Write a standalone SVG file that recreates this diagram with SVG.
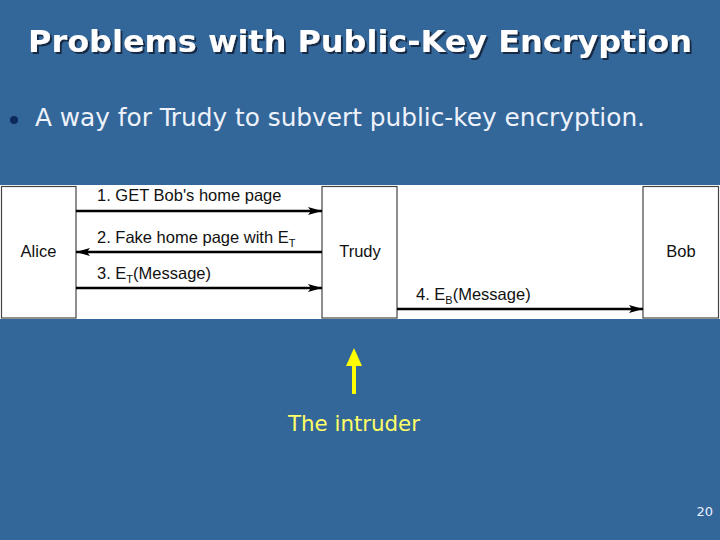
<svg xmlns="http://www.w3.org/2000/svg" width="720" height="540" viewBox="0 0 720 540">
<defs>
<marker id="ah" viewBox="0 0 14 8" refX="14" refY="4" markerWidth="14" markerHeight="8" markerUnits="userSpaceOnUse" orient="auto">
<path d="M0,0 L14,4 L0,8 L3,4 Z" fill="#000"/>
</marker>
<filter id="sh" x="-5%" y="-20%" width="110%" height="140%">
<feDropShadow dx="2" dy="2" stdDeviation="0.6" flood-color="#0a1a33" flood-opacity="0.8"/>
</filter>
</defs>
<style>
.box{fill:#fff;stroke:#444;stroke-width:1.2}
.lbl{font-family:"Liberation Sans",Arial,sans-serif;font-size:16.5px;fill:#111}
.nm{font-family:"Liberation Sans",Arial,sans-serif;font-size:16.5px;fill:#111;text-anchor:middle}
.conn{stroke:#000;stroke-width:2.4;fill:none;marker-end:url(#ah)}
.sub{font-size:11px}
</style>
<rect width="720" height="540" fill="#336699"/>
<text x="360" y="52" text-anchor="middle" font-family="'DejaVu Sans Condensed','DejaVu Sans',sans-serif" font-weight="bold" font-size="31" fill="#fff" filter="url(#sh)" textLength="664" lengthAdjust="spacingAndGlyphs">Problems with Public-Key Encryption</text>
<circle cx="14" cy="120" r="4" fill="#0c2a5a"/>
<text x="35" y="126" font-family="'DejaVu Sans Condensed','DejaVu Sans',sans-serif" font-size="24" fill="#eef2fa" textLength="610" lengthAdjust="spacingAndGlyphs">A way for Trudy to subvert public-key encryption.</text>
<rect x="0" y="185" width="720" height="134" fill="#fff"/>
<g id="alice">
<rect class="box" x="1.5" y="186.5" width="74.5" height="131.5"/>
<text class="nm" x="38.5" y="257">Alice</text>
</g>
<g id="trudy">
<rect class="box" x="322" y="186.5" width="75" height="131.5"/>
<text class="nm" x="360" y="257">Trudy</text>
</g>
<g id="bob">
<rect class="box" x="643" y="186.5" width="75.5" height="131.5"/>
<text class="nm" x="681" y="257">Bob</text>
</g>
<g id="connectors">
<line class="conn" x1="76" y1="211" x2="322" y2="211"/>
<text class="lbl" x="97" y="201">1. GET Bob's home page</text>
<line class="conn" x1="322" y1="252" x2="76" y2="252"/>
<text class="lbl" x="97" y="243">2. Fake home page with E<tspan class="sub" dy="4">T</tspan></text>
<line class="conn" x1="76" y1="288" x2="322" y2="288"/>
<text class="lbl" x="97" y="279">3. E<tspan class="sub" dy="4">T</tspan><tspan dy="-4">(Message)</tspan></text>
<line class="conn" x1="397" y1="309" x2="643" y2="309"/>
<text class="lbl" x="416" y="300">4. E<tspan class="sub" dy="4">B</tspan><tspan dy="-4">(Message)</tspan></text>
</g>
<g id="intruder">
<line x1="354" y1="394" x2="354" y2="362" stroke="#ffff00" stroke-width="4"/>
<path d="M346,366 L354,348 L362,366 Z" fill="#ffff00"/>
<text x="354" y="431" text-anchor="middle" font-family="'DejaVu Sans Condensed','DejaVu Sans',sans-serif" font-size="22" fill="#ffff66" textLength="132" lengthAdjust="spacingAndGlyphs">The intruder</text>
</g>
<text x="713" y="516" text-anchor="end" font-family="'DejaVu Sans',sans-serif" font-size="13" fill="#e8f0ff">20</text>
</svg>
